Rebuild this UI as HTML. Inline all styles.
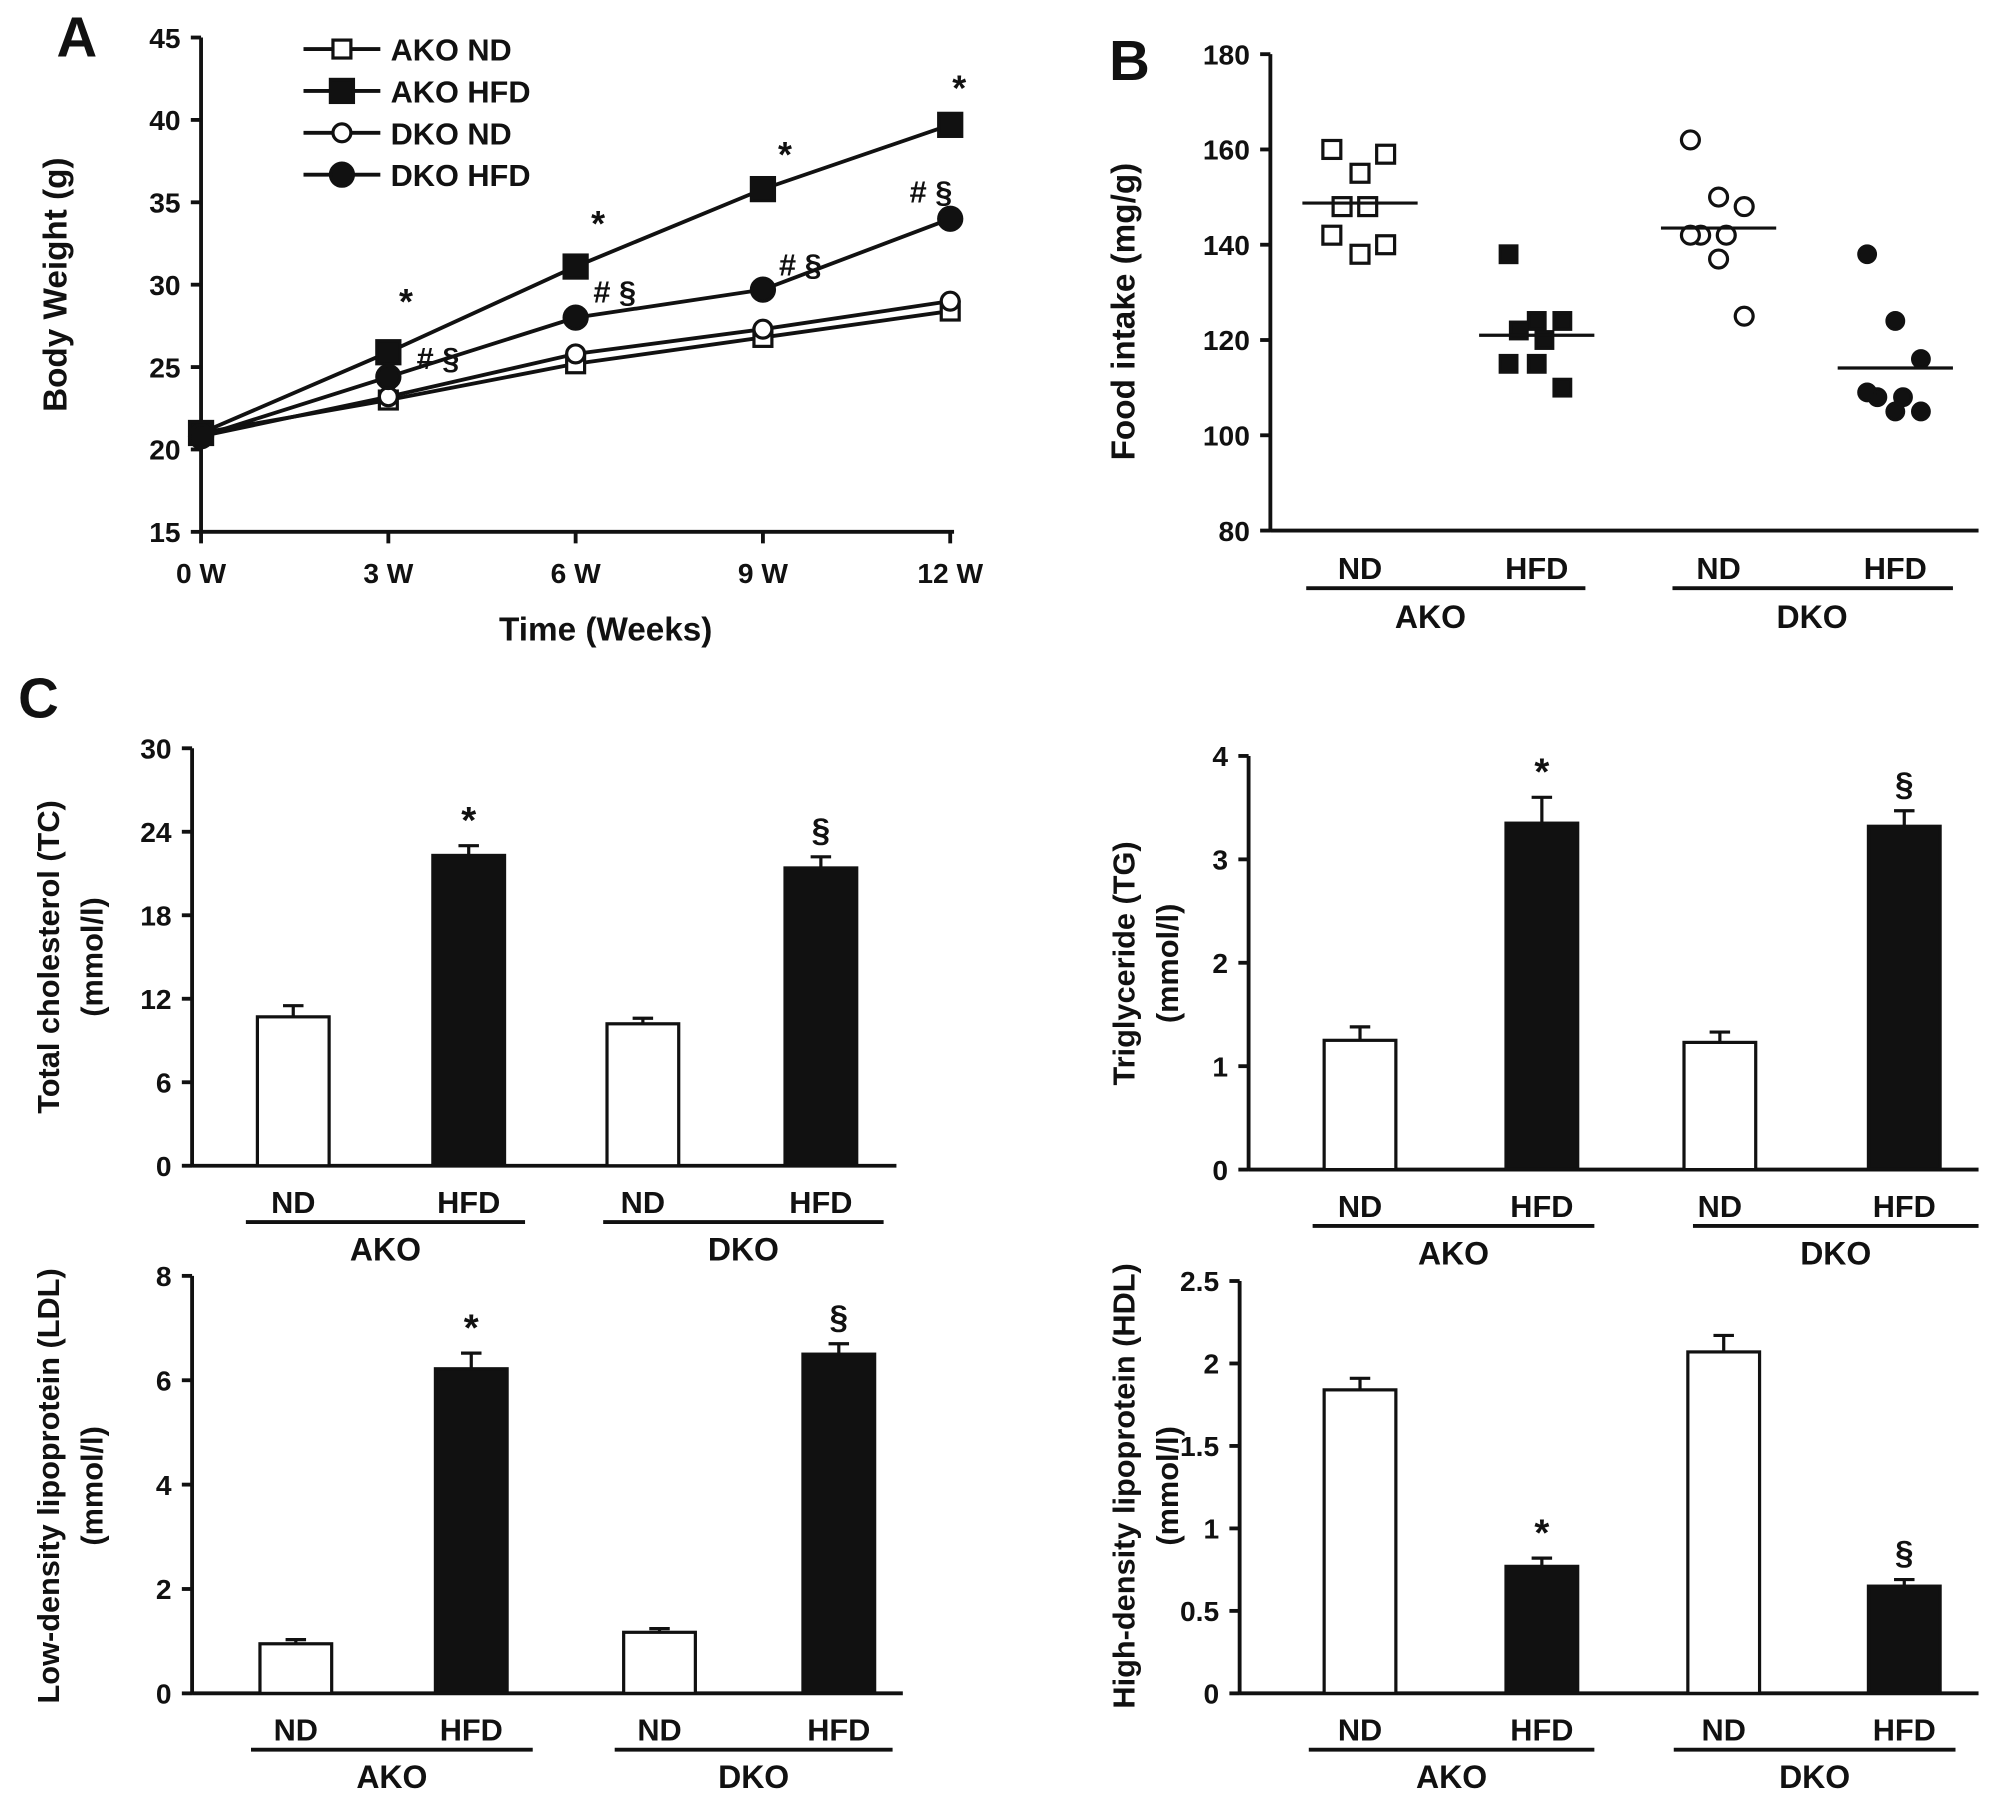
<!DOCTYPE html>
<html><head><meta charset="utf-8"><style>
html,body{margin:0;padding:0;background:#fff}
svg{display:block}
text{font-family:"Liberation Sans",Arial,sans-serif;font-weight:bold;fill:#111}
</style></head><body>
<svg id="fig" xmlns="http://www.w3.org/2000/svg" width="2008" height="1809" viewBox="0 0 1568 1412"></svg>
<script>
// Panel A data
const weeks = ["0 W","3 W","6 W","9 W","12 W"];
const akoND = [21, 23, 25.2, 26.8, 28.4];
const akoHFD = [21, 25.9, 31.1, 35.8, 39.7];
const dkoND = [20.8, 23.2, 25.8, 27.3, 29];
const dkoHFD = [20.8, 24.4, 28, 29.7, 34];
const aTicks = [15,20,25,30,35,40,45];
// Panel B data
const bGroups = ["ND","HFD","ND","HFD"];
const bAkoND = [160,155,159,148,148,142,138,140];
const bAkoHFD = [138,124,124,122,120,115,115,110];
const bDkoND = [162,150,148,142,142,142,137,125];
const bDkoHFD = [138,124,116,108,108,109,105,105];
const bTicks = [80,100,120,140,160,180];
// Panel C data
const tcVals = [10.7,22.3,10.2,21.4];
const tcErr = [0.8,0.7,0.4,0.8];
const tgVals = [1.25,3.35,1.23,3.32];
const tgErr = [0.13,0.25,0.1,0.15];
const ldlVals = [0.95,6.22,1.17,6.5];
const ldlErr = [0.08,0.3,0.07,0.2];
const hdlVals = [1.84,0.77,2.07,0.65];
const hdlErr = [0.07,0.05,0.1,0.04];

const NS="http://www.w3.org/2000/svg";
const svg=document.getElementById('fig');
function mk(tag,attrs,parent){const e=document.createElementNS(NS,tag);for(const k in attrs)e.setAttribute(k,attrs[k]);(parent||svg).appendChild(e);return e;}
function txt(s,x,y,size,anchor,parent,rot){const t=mk('text',{x:x,y:y,'font-size':size,'text-anchor':anchor||'middle'},parent);if(rot)t.setAttribute('transform',`rotate(-90 ${x} ${y})`);t.textContent=s;return t;}
function line(x1,y1,x2,y2,w,parent){return mk('line',{x1,y1,x2,y2,stroke:'#111','stroke-width':w||3},parent);}

// ===== Panel A =====
const gA=mk('g',{});


const ax0=157, axX=i=>ax0+i*146.25, ayV=v=>415-(v-15)*(386/30);
let t=txt('A',60,44,44,'middle',gA);  
line(ax0,29,ax0,416,3,gA); line(ax0,415,745,415,3,gA);
aTicks.forEach(v=>{line(ax0-8,ayV(v),ax0,ayV(v),3,gA);const l=txt(String(v),ax0-16,ayV(v)+8,22,'end',gA);});
weeks.forEach((w,i)=>{line(axX(i),415,axX(i),424,3,gA);const l=txt(w,axX(i),455,22,'middle',gA);});
t=txt('Time (Weeks)',473,500,26,'middle',gA);
t=txt('Body Weight (g)',52,222,26,'middle',gA,true);
const series=[[akoND,'sq',false,'ako-nd'],[akoHFD,'sq',true,'ako-hfd'],[dkoND,'ci',false,'dko-nd'],[dkoHFD,'ci',true,'dko-hfd']];
function marker(kind,filled,x,y,r,parent){
  if(kind==='sq') return mk('rect',{x:x-r,y:y-r,width:2*r,height:2*r,fill:filled?'#111':'#fff',stroke:'#111','stroke-width':2.5},parent);
  return mk('circle',{cx:x,cy:y,r:r,fill:filled?'#111':'#fff',stroke:'#111','stroke-width':2.5},parent);
}
series.forEach(([d,k,f,n])=>{
  const p=mk('polyline',{points:d.map((v,i)=>axX(i)+','+ayV(v)).join(' '),fill:'none',stroke:'#111','stroke-width':3},gA);
  
  d.forEach((v,i)=>{const m=marker(k,f,axX(i),ayV(v),f?9:7,gA);});
});
const legNames=['AKO ND','AKO HFD','DKO ND','DKO HFD'];
series.forEach(([d,k,f,n],i)=>{const y=38+i*32.7;const g=mk('g',{},gA);
  line(237,y,297,y,3,g);marker(k,f,267,y,f?9:7,g);txt(legNames[i],305,y+9,24,'start',g);});
[[317,245,'*'],[467,184,'*'],[613,130,'*'],[749,78,'*']].forEach(a=>{const s=txt(a[2],a[0],a[1],28,'middle',gA);});
[[342,288],[480,236],[625,215],[727,158]].forEach(a=>{const s=txt('# §',a[0],a[1],24,'middle',gA);});

// ===== Panel B =====
const gB=mk('g',{});


const bx0=992, byV=v=>414-(v-80)*3.72, bCx=[1062,1200,1342,1480];
const jit=[-22,0,20,-14,6,-22,0,20];
t=txt('B',882,62,44,'middle',gB);
line(bx0,42,bx0,415,3,gB);line(bx0,414,1545,414,3,gB);
bTicks.forEach(v=>{line(bx0-8,byV(v),bx0,byV(v),3,gB);const l=txt(String(v),bx0-16,byV(v)+8,22,'end',gB);});
t=txt('Food intake (mg/g)',886,243,26,'middle',gB,true);
[[bAkoND,'sq',false],[bAkoHFD,'sq',true],[bDkoND,'ci',false],[bDkoHFD,'ci',true]].forEach(([d,k,f],gi)=>{
  d.forEach((v,i)=>{const m=marker(k,f,bCx[gi]+jit[i],byV(v),f?6.5:7,gB);});
  const mean=d.reduce((a,b)=>a+b,0)/d.length;
  const ml=line(bCx[gi]-45,byV(mean),bCx[gi]+45,byV(mean),2.5,gB);
  const l=txt(bGroups[gi],bCx[gi],452,24,'middle',gB);
});
line(1020,459,1238,459,3,gB);line(1306,459,1525,459,3,gB);
t=txt('AKO',1117,490,25,'middle',gB);
t=txt('DKO',1415,490,25,'middle',gB);

// ===== Panel C bar charts =====
t=txt('C',30,560,44,'middle');
function barChart(cfg){
  const g=mk('g',{});
  
  
  const yV=v=>cfg.y0-v*(cfg.y0-cfg.yTop)/cfg.max;
  line(cfg.x0,cfg.yTop,cfg.x0,cfg.y0+1,3,g);line(cfg.x0,cfg.y0,cfg.xEnd,cfg.y0,3,g);
  cfg.ticks.forEach((v,i)=>{line(cfg.x0-8,yV(v),cfg.x0,yV(v),3,g);const l=txt(cfg.tickLabels[i],cfg.x0-16,yV(v)+8,22,'end',g);});
  cfg.vals.forEach((v,i)=>{const cx=cfg.cx[i];
    line(cx,yV(v+cfg.err[i]),cx,yV(v),2.5,g);line(cx-8,yV(v+cfg.err[i]),cx+8,yV(v+cfg.err[i]),2.5,g);
    const r=mk('rect',{x:cx-28,y:yV(v),width:56,height:cfg.y0-yV(v),fill:i%2?'#111':'#fff',stroke:'#111','stroke-width':2.5},g);
    
    const l=txt(bGroups[i],cx,cfg.y0+37,24,'middle',g);
  });
  line(cfg.u[0],cfg.y0+44,cfg.u[1],cfg.y0+44,3,g);line(cfg.u[2],cfg.y0+44,cfg.u[3],cfg.y0+44,3,g);
  let a=txt('AKO',(cfg.u[0]+cfg.u[1])/2,cfg.y0+74,25,'middle',g);
  a=txt('DKO',(cfg.u[2]+cfg.u[3])/2,cfg.y0+74,25,'middle',g);
  a=txt(cfg.title1,cfg.tx,cfg.tc,24,'middle',g,true);
  a=txt('(mmol/l)',cfg.tx+34,cfg.tc,24,'middle',g,true);
  const hi=1,hi2=3;
  a=txt('*',cfg.cx[hi],yV(cfg.vals[hi]+cfg.err[hi])-10,30,'middle',g);
  a=txt('§',cfg.cx[hi2],yV(cfg.vals[hi2]+cfg.err[hi2])-12,26,'middle',g);
}
barChart({name:'chart-total-cholesterol',x0:150,xEnd:700,y0:910,yTop:584,max:30,ticks:[0,6,12,18,24,30],tickLabels:['0','6','12','18','24','30'],vals:tcVals,err:tcErr,cx:[229,366,502,641],u:[192,410,471,690],title1:'Total cholesterol (TC)',tx:46,tc:747});
barChart({name:'chart-triglyceride',x0:975,xEnd:1545,y0:913,yTop:590,max:4,ticks:[0,1,2,3,4],tickLabels:['0','1','2','3','4'],vals:tgVals,err:tgErr,cx:[1062,1204,1343,1487],u:[1025,1245,1322,1545],title1:'Triglyceride (TG)',tx:886,tc:752});
barChart({name:'chart-ldl',x0:150,xEnd:705,y0:1322,yTop:996,max:8,ticks:[0,2,4,6,8],tickLabels:['0','2','4','6','8'],vals:ldlVals,err:ldlErr,cx:[231,368,515,655],u:[196,416,480,697],title1:'Low-density lipoprotein (LDL)',tx:46,tc:1160});
barChart({name:'chart-hdl',x0:968,xEnd:1545,y0:1322,yTop:1000,max:2.5,ticks:[0,0.5,1,1.5,2,2.5],tickLabels:['0','0.5','1','1.5','2','2.5'],vals:hdlVals,err:hdlErr,cx:[1062,1204,1346,1487],u:[1022,1245,1307,1527],title1:'High-density lipoprotein (HDL)',tx:886,tc:1160});
</script>
</body></html>
